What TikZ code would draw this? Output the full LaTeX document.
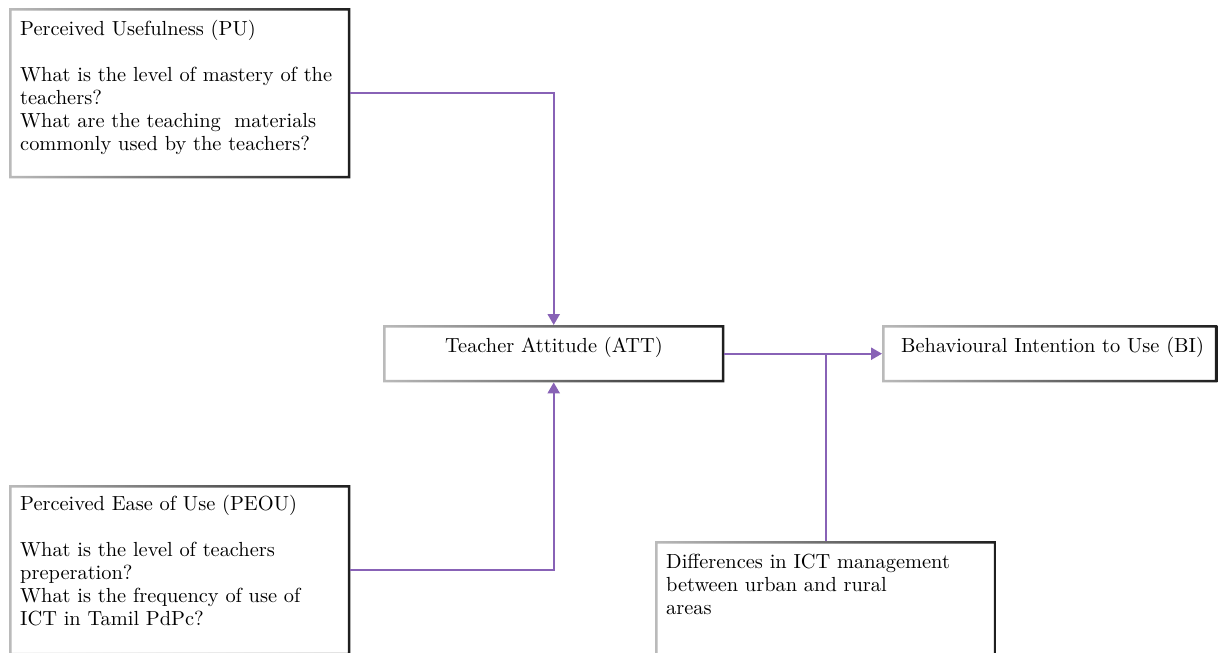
\documentclass[tikz,border=0pt]{standalone}
\usepackage{fontspec}
\setmainfont{lmroman10}[Extension=.otf, UprightFont=*-regular, BoldFont=*-bold, ItalicFont=*-italic]
\usetikzlibrary{arrows.meta}
\definecolor{conn}{HTML}{8862B6}
\tikzset{
  box/.style={rectangle, draw=none, inner sep=0pt, anchor=north west},
  txt/.style={anchor=north west, inner sep=0pt, align=left, font=\fontsize{20.4}{23}\selectfont},
  link/.style={conn, line width=2.3pt},
  arr/.style={link, -{Triangle[length=11pt,width=12pt]}},
}
\newcommand\gframe[1]{\shade[left color=black!27, right color=black!88, even odd rule]
  (#1.south west) rectangle (#1.north east)
  ([shift={(2.5pt,2.5pt)}]#1.south west) rectangle ([shift={(-2.5pt,-2.5pt)}]#1.north east);}
\newcommand\hs{\rule{0pt}{15pt}}
\begin{document}
\begin{tikzpicture}[x=1pt,y=-1pt]
\useasboundingbox (0,0) rectangle (1218,653);
\clip (0,0) rectangle (1218,653);
\fill[white] (0,0) rectangle (1218,653);
% boxes
\node[box, minimum width=341pt, minimum height=170pt] (pu) at (9,8) {};
\node[box, minimum width=341pt, minimum height=57pt] (att) at (383,325) {};
\node[box, minimum width=335pt, minimum height=57pt] (bi) at (882,325) {};
\node[box, minimum width=341pt, minimum height=170pt] (peou) at (9,485) {};
\node[box, minimum width=341pt, minimum height=130pt] (diff) at (655,541) {};
\gframe{pu}
\gframe{att}
\gframe{bi}
\gframe{peou}
\gframe{diff}
% texts
\node[txt] (putext) at (20,20) {\hs Perceived Usefulness (PU)\\[23pt]
What is the level of mastery of the\\
teachers?\\
What are the teaching\ \ materials\\
commonly used by the teachers?};
\node[txt, anchor=base] (atttext) at (554,352) {Teacher Attitude (ATT)};
\node[txt, anchor=base west] (bitext) at (901,352) {Behavioural Intention to Use (BI)};
\node[txt] (peoutext) at (20,495) {\hs Perceived Ease of Use (PEOU)\\[23pt]
What is the level of teachers\\
preperation?\\
What is the frequency of use of\\
ICT in Tamil PdPc?};
\node[txt] (difftext) at (666,553) {\hs Differences in ICT management\\
between urban and rural\\
areas};
% connectors
\draw[arr] (pu.east) -| (att.north);
\draw[arr] (peou.east) -| (att.south);
\draw[arr] (att.east) -- (bi.west);
\draw[link] (diff.north) -- (diff.north |- att.east);
\end{tikzpicture}
\end{document}
